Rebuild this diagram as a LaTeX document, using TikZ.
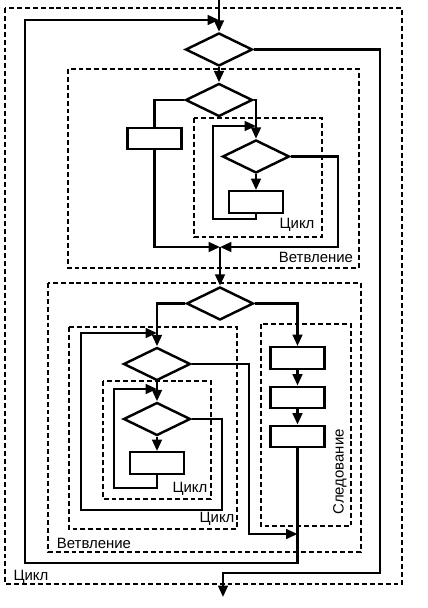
\documentclass[tikz,border=0pt]{standalone}
\usepackage{fontspec}
\setmainfont{Liberation Sans}
\usetikzlibrary{shapes.geometric,arrows.meta}
\begin{document}
\begin{tikzpicture}[x=0.02cm,y=-0.02cm,
  line/.style={line width=1.4pt},
  arr/.style={line width=1.4pt,-{Triangle[length=6.5pt,width=5.5pt]}},
  dbox/.style={line width=0.9pt,dash pattern=on 2.8pt off 1.7pt},
  cond/.style={diamond,draw,line width=1.4pt,minimum width=1.34cm,minimum height=0.66cm,inner sep=0pt},
  act/.style={rectangle,draw,line width=1.4pt,minimum width=1.08cm,minimum height=0.43cm,inner sep=0pt},
  lbl/.style={font=\fontsize{8.5}{10}\selectfont,inner sep=0pt}]
\useasboundingbox (0,0) rectangle (428,608);
% dashed structure frames
\draw[dbox] (5,8) rectangle (402,584);
\draw[dbox] (68,69) rectangle (359,268);
\draw[dbox] (194,118) rectangle (322,237);
\draw[dbox] (48,283) rectangle (361,552);
\draw[dbox] (69,327) rectangle (237,529);
\draw[dbox] (103,381) rectangle (211,499);
\draw[dbox] (261,324) rectangle (351,526);
% blocks
\node[cond] (d1) at (219,49.5) {};
\node[cond] (d2) at (219,100) {};
\node[act]  (b1) at (154.5,138.5) {};
\node[cond] (d3) at (256,156.5) {};
\node[act]  (b2) at (256,202) {};
\node[cond] (d4) at (220,303.5) {};
\node[cond] (d5) at (157,364) {};
\node[cond] (d6) at (157,419) {};
\node[act]  (b3) at (157,463) {};
\node[act]  (bA) at (297.5,358) {};
\node[act]  (bB) at (297.5,397.5) {};
\node[act]  (bC) at (297.5,436.5) {};
% junction coordinates
\coordinate (entry) at (219,0);
\coordinate (exit) at (223,597);
\coordinate (m) at (220,247);
\coordinate (j0) at (219,20);
\coordinate (j1) at (256,126);
\coordinate (j2) at (157,333);
\coordinate (j3) at (157,389);
\coordinate (j4) at (297.5,534);
% connectors
\draw[arr] (entry) -- (d1.north);
\draw[arr] (d1.south) -- (d2.north);
\draw[line] (d2.west) -| (b1.north);
\draw[arr] (d2.east) -| (d3.north);
\draw[arr] (d3.south) -- (b2.north);
\draw[arr] (b2.south) -- ++(0,5) -| (213,126) -- (j1);
\draw[arr] (d3.east) -- (338,156.5) |- (m);
\draw[arr] (b1.south) |- (m);
\draw[arr] (m) -- (d4.north);
\draw[arr] (d4.west) -| (d5.north);
\draw[arr] (d4.east) -| (bA.north);
\draw[arr] (bA.south) -- (bB.north);
\draw[arr] (bB.south) -- (bC.north);
\draw[arr] (bC.south) |- (25,563) |- (j0);
\draw[arr] (d1.east) -| (380,573) -| (exit);
\draw[arr] (d5.south) -- (d6.north);
\draw[arr] (d6.south) -- (b3.north);
\draw[arr] (b3.south) -- ++(0,13) -| (114,389) -- (j3);
\draw[arr] (d6.east) -| (222,510) -| (81,333) -- (j2);
\draw[arr] (d5.east) -| (249,534) -- (j4);
% labels
\node[lbl] (t1) at (297,225) {Цикл};
\node[lbl] (t2) at (316,257) {Ветвление};
\node[lbl] (t3) at (190,489) {Цикл};
\node[lbl] (t4) at (217,519) {Цикл};
\node[lbl] (t5) at (94,543) {Ветвление};
\node[lbl] (t6) at (31,577) {Цикл};
\node[lbl,rotate=90] (t7) at (340,472) {Следование};
\end{tikzpicture}
\end{document}
